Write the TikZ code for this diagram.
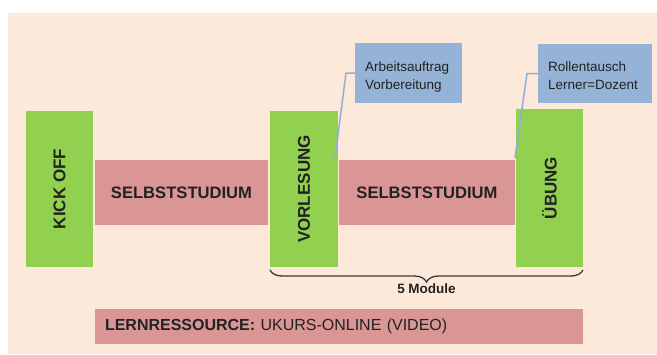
\documentclass[tikz,border=0pt]{standalone}
\usepackage{fontspec}
\setmainfont{Liberation Sans}
\usetikzlibrary{decorations.pathreplacing}
\definecolor{peach}{HTML}{FDE9D9}
\definecolor{grn}{HTML}{92D050}
\definecolor{pnk}{HTML}{D99694}
\definecolor{blu}{HTML}{95B3D7}
\definecolor{leadc}{HTML}{8EB0D8}
\definecolor{txt}{HTML}{222222}
\definecolor{brc}{HTML}{3A3A3A}
\tikzset{
  box/.style={inner sep=0pt, outer sep=0pt, text=txt},
  greenbox/.style={box, fill=grn, font=\fontsize{17}{20}\selectfont\bfseries},
  pinkbox/.style={box, fill=pnk, font=\fontsize{16.6}{19}\selectfont\bfseries},
  bluebox/.style={box, fill=blu},
  calltext/.style={inner sep=0pt, text=txt, align=left, font=\fontsize{13.5}{18}\selectfont},
  leader/.style={draw=leadc, line width=1.5pt},
  bracestyle/.style={draw=brc, line width=1.3pt, decorate, decoration={brace, mirror, amplitude=12pt}},
}
\begin{document}
\begin{tikzpicture}[x=1pt, y=-1pt]
\useasboundingbox (0,0) rectangle (657,354);
\fill[peach] (8,13) rectangle (657,354);
% main blocks
\node[greenbox, minimum width=67pt, minimum height=156pt] (kick) at (59.5,189) {\rotatebox{90}{KICK OFF}};
\node[pinkbox, minimum width=173pt, minimum height=65pt] (s1) at (181.5,192.5) {SELBSTSTUDIUM};
\node[greenbox, minimum width=68pt, minimum height=156pt] (vor) at (304,189) {\rotatebox{90}{VORLESUNG}};
\node[pinkbox, minimum width=176pt, minimum height=65pt] (s2) at (427,192.5) {SELBSTSTUDIUM};
\node[greenbox, minimum width=67pt, minimum height=158pt] (ueb) at (549.5,188) {\rotatebox{90}{ÜBUNG}};
% callouts
\node[bluebox, minimum width=107pt, minimum height=60pt] (c1) at (408.5,73) {};
\node[calltext, anchor=north west] (t1) at ([xshift=10pt,yshift=-19pt]c1.north west) {Arbeitsauftrag\\Vorbereitung};
\node[bluebox, minimum width=114pt, minimum height=59pt] (c2) at (595,73.5) {};
\node[calltext, anchor=north west] (t2) at ([xshift=10pt,yshift=-18pt]c2.north west) {Rollentausch\\Lerner=Dozent};
\coordinate (l1) at (335,158);
\coordinate (l2) at (515,158);
\draw[leader] (l1) -- ([xshift=-9pt]c1.west) -- (c1.west);
\draw[leader] (l2) -- ([xshift=-11pt]c2.west) -- (c2.west);
% brace
\coordinate (bl) at (270,270);
\coordinate (br) at (583,270);
\draw[bracestyle] (bl) -- (br) node[midway, below=13pt, inner sep=0pt, text=txt, font=\fontsize{13.5}{16}\selectfont\bfseries] (mods) {5 Module};
% resource bar
\node[box, fill=pnk, minimum width=488pt, minimum height=35pt, text width=468pt, align=left, font=\fontsize{16}{19}\selectfont] (lern) at (339,326.5) {\textbf{LERNRESSOURCE:} UKURS-ONLINE (VIDEO)};
\end{tikzpicture}
\end{document}
